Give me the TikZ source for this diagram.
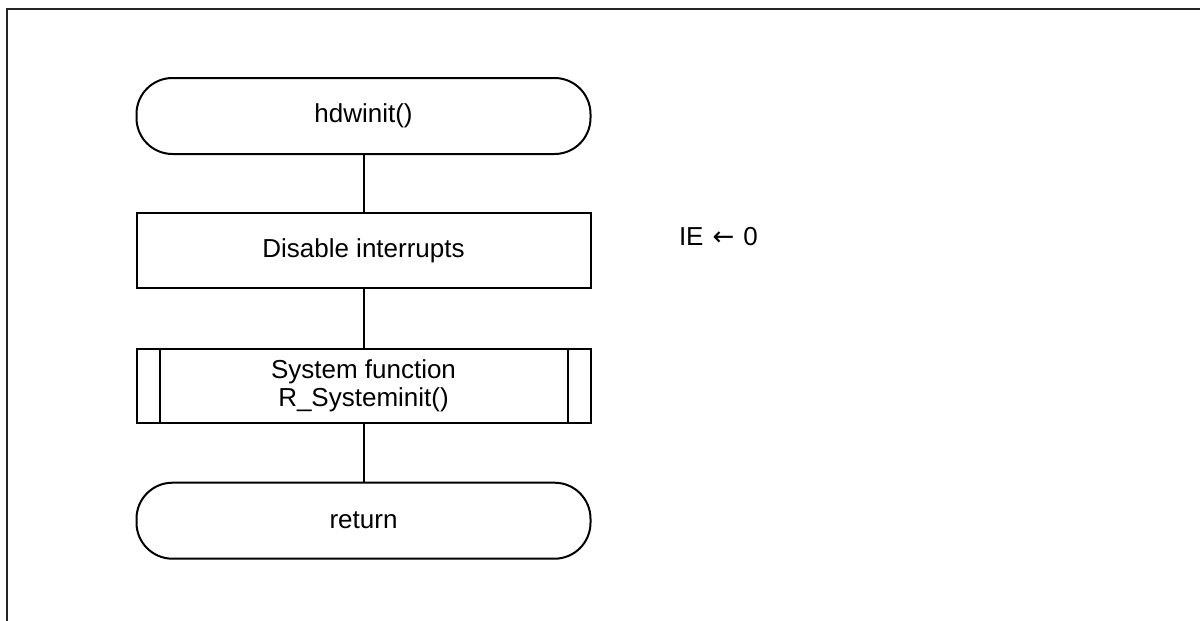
\documentclass[tikz,border=0pt]{standalone}
\usepackage{fontspec}
\setmainfont{Liberation Sans}
\newfontfamily\arrowfont{DejaVu Sans}
\begin{document}
\begin{tikzpicture}[x=0.5pt,y=-0.5pt,line width=1pt,
  txt/.style={font=\fontsize{13pt}{14pt}\selectfont},
  termbox/.style={draw,rectangle,rounded corners=18pt,minimum width=227pt,minimum height=38pt,txt},
  procbox/.style={draw,rectangle,minimum width=227pt,minimum height=37.5pt,txt},
  subbox/.style={draw,rectangle,minimum width=227pt,minimum height=37pt,align=center,txt}]
\useasboundingbox (0,0) rectangle (1200,621);
\draw[black!85] (7,621) -- (7,9) -- (1200,9);
\node[termbox] (start) at (363.5,116) {hdwinit()};
\node[procbox] (dis) at (363.5,250.8) {Disable interrupts};
\node[subbox] (sys) at (363.5,385.5) {System function\\R\_Systeminit()};
\node[termbox] (ret) at (363.5,520.7) {return};
\draw ([xshift=12pt]sys.north west) -- ([xshift=12pt]sys.south west);
\draw ([xshift=-12pt]sys.north east) -- ([xshift=-12pt]sys.south east);
\draw (start) -- (dis);
\draw (dis) -- (sys);
\draw (sys) -- (ret);
\node[txt,anchor=base west,inner sep=0] (ie) at (678,245) {IE\hspace{4.5pt}{\arrowfont ←}\hspace{4.5pt}0};
\end{tikzpicture}
\end{document}
